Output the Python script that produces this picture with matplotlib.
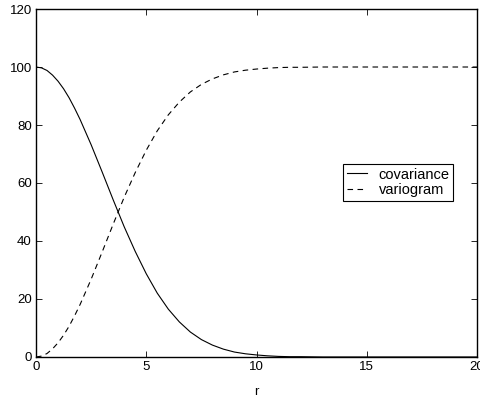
import matplotlib
matplotlib.use("Agg")
import matplotlib.pyplot as plt

# values (r vs covariance / variogram)
r = [0, 0.25, 0.5, 0.75, 1, 1.25, 1.5, 1.75, 2, 2.5, 3, 3.5, 4, 4.5, 5,
     5.5, 6, 6.5, 7, 7.5, 8, 8.5, 9, 9.5, 10, 10.5, 11, 11.5, 12, 13, 20]
covariance = [100, 99.7, 98.8, 97.2, 95.1, 92.5, 89.4, 85.8, 81.9, 73.2,
              63.8, 54.2, 44.9, 36.4, 28.7, 22.0, 16.5, 12.1, 8.6, 6.0,
              4.1, 2.7, 1.7, 1.1, 0.7, 0.4, 0.2, 0.1, 0.1, 0.0, 0.0]
variogram = [0, 0.3, 1.2, 2.8, 4.9, 7.5, 10.6, 14.2, 18.1, 26.8, 36.2,
             45.8, 55.1, 63.6, 71.3, 78.0, 83.5, 87.9, 91.4, 94.0, 95.9,
             97.3, 98.3, 98.9, 99.3, 99.6, 99.8, 99.9, 99.9, 100.0, 100.0]

plt.rcParams['font.family'] = ['Liberation Sans', 'DejaVu Sans']
plt.rcParams['font.size'] = 9.5

fig = plt.figure(figsize=(4.8, 3.97), dpi=100)
ax = fig.add_axes([0.075, 0.1008, 0.9188, 0.8765])

ax.plot(r, covariance, color='black', linewidth=0.8, label='covariance')
ax.plot(r, variogram, color='black', linewidth=0.8, linestyle=(0, (5, 4)),
        label='variogram')

ax.set_xlim(0, 20)
ax.set_ylim(0, 120)
ax.set_xticks([0, 5, 10, 15, 20])
ax.set_yticks([0, 20, 40, 60, 80, 100, 120])
ax.tick_params(direction='in', top=True, right=True, length=4, width=0.6, pad=3)
for s in ax.spines.values():
    s.set_linewidth(1.0)
ax.set_xlabel('r', labelpad=9)

leg = ax.legend(loc='upper left', bbox_to_anchor=(0.696, 0.555),
                fancybox=False, edgecolor='black', framealpha=1,
                fontsize=10.5, handlelength=1.4, handletextpad=0.8,
                borderpad=0.25, borderaxespad=0, labelspacing=0.1)
leg.get_frame().set_linewidth(0.8)

fig.savefig('out.png', dpi=100)
